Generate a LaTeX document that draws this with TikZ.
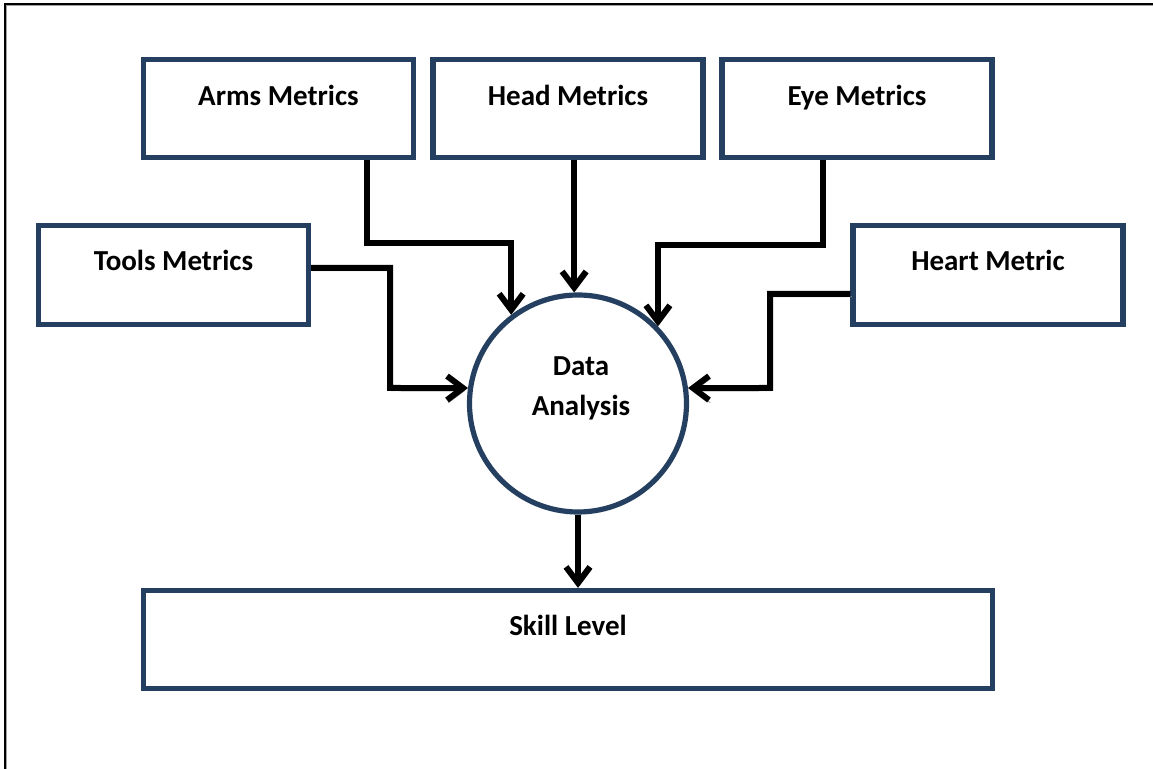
\documentclass[tikz,border=0pt]{standalone}
\usepackage{fontspec}
\setmainfont{Carlito}
\usetikzlibrary{arrows.meta,calc}
\definecolor{navy}{RGB}{36,63,96}
\definecolor{shadowgray}{RGB}{160,160,160}
\tikzset{
  box/.style={draw=navy, line width=2.6pt, fill=white, rectangle, inner sep=0pt},
  lbl/.style={font=\fontsize{14.5}{20}\selectfont\bfseries, text=black, inner sep=0pt, align=center},
  lbl1/.style={lbl, text height=10pt, text depth=3pt},
  conn/.style={draw=black, line width=3pt, -{Straight Barb[length=8pt,width=12pt]},
    preaction={draw=shadowgray, transform canvas={xshift=0.7pt,yshift=-1.4pt}}},
}
\begin{document}
\begin{tikzpicture}[x=0.5pt,y=-0.5pt]
\fill[white] (0,0) rectangle (1153,769);
\useasboundingbox (0,0) rectangle (1153,769);
% outer frame (left and top edges visible)
\draw[shadowgray, line width=0.8pt] (6.5,769) -- (6.5,5.5) -- (1153,5.5);
\draw[black, line width=0.8pt] (5,769) -- (5,4) -- (1153,4);

% boxes
\node[box, minimum width=135pt, minimum height=49pt,
  label={[lbl1,yshift=4.75pt]center:Arms Metrics}] (arms) at (278.5,108.5) {};
\node[box, minimum width=135pt, minimum height=49pt,
  label={[lbl1,yshift=4.75pt]center:Head Metrics}] (head) at (568,108.5) {};
\node[box, minimum width=135pt, minimum height=49pt,
  label={[lbl1,yshift=4.75pt]center:Eye Metrics}] (eye) at (857,108.5) {};
\node[box, minimum width=135pt, minimum height=49.5pt,
  label={[lbl1,yshift=5.5pt]center:Tools Metrics}] (tools) at (173.5,275) {};
\node[box, minimum width=135pt, minimum height=49.5pt,
  label={[lbl1,yshift=5.5pt]center:Heart Metric}] (heart) at (988,275) {};
\node[box, minimum width=424.5pt, minimum height=49pt,
  label={[lbl1,yshift=5.25pt]center:Skill Level}] (skill) at (568,639.5) {};
\node[box, circle, minimum size=108.5pt,
  label={[lbl,xshift=1.5pt,yshift=7.5pt]center:Data\\Analysis}] (circ) at (578,403.5) {};

% connectors
\draw[conn] (arms.south -| 367,0) |- (circ.127 |- 0,243) -- (circ.127);
\draw[conn] (head.south -| circ.92) -- (circ.92);
\draw[conn] (eye.south -| 823,0) |- (circ.44 |- 0,245) -- (circ.44);
\draw[conn] (tools.east |- 0,268) -| (390,388) -- (circ.172);
\draw[conn] (heart.west |- 0,294) -| (770,388) -- (circ.8);
\draw[conn] (circ.south) -- (circ.south |- skill.north);
\end{tikzpicture}
\end{document}
